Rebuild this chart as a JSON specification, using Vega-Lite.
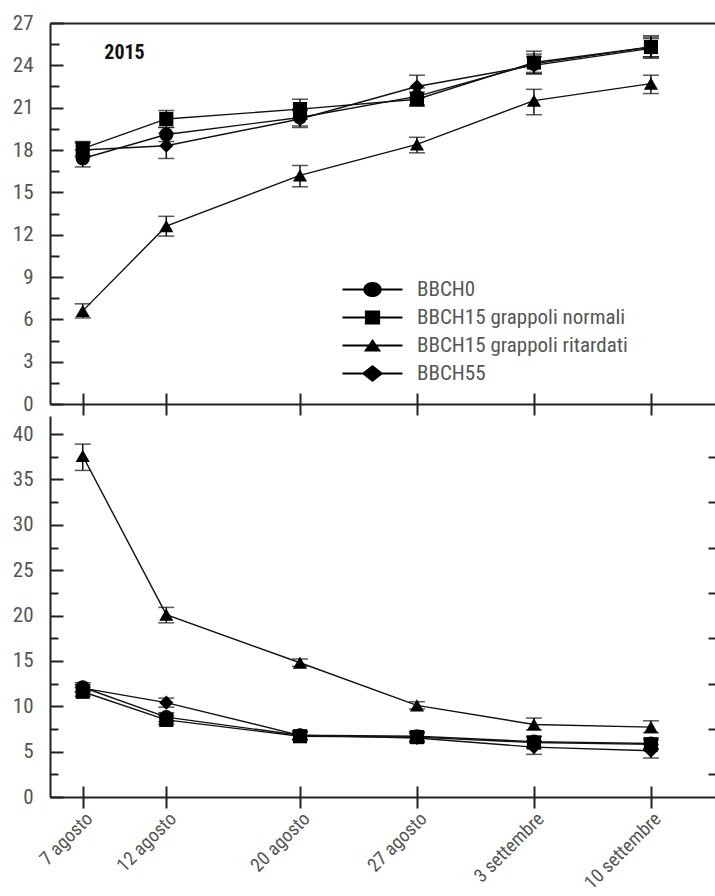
{
  "$schema": "https://vega.github.io/schema/vega-lite/v6.json",
  "padding": {"left": 12, "top": 12, "right": 0, "bottom": 0},
  "autosize": {"type": "pad"},
  "spacing": 0,
  "config": {
    "view": {"stroke": null},
    "axis": {
      "labelFont": "'Noto Sans Condensed Light', 'Noto Sans Condensed', 'Roboto Condensed', Roboto, sans-serif",
      "labelFontSize": 21,
      "labelColor": "#555555",
      "domainColor": "#222222",
      "tickColor": "#222222",
      "domainWidth": 2,
      "tickWidth": 2,
      "grid": false
    }
  },
  "resolve": {"scale": {"shape": "independent"}, "legend": {"shape": "independent"}},
  "datasets": {
    "d": [
      {"panel": "top", "date": "2015-08-07", "series": "BBCH0", "value": 17.4, "lo": 16.8, "hi": 18.0},
      {"panel": "top", "date": "2015-08-12", "series": "BBCH0", "value": 19.1, "lo": 18.6, "hi": 19.6},
      {"panel": "top", "date": "2015-08-20", "series": "BBCH0", "value": 20.3, "lo": 19.7, "hi": 20.9},
      {"panel": "top", "date": "2015-08-27", "series": "BBCH0", "value": 21.8, "lo": 21.2, "hi": 22.4},
      {"panel": "top", "date": "2015-09-03", "series": "BBCH0", "value": 24.1, "lo": 23.4, "hi": 24.8},
      {"panel": "top", "date": "2015-09-10", "series": "BBCH0", "value": 25.3, "lo": 24.6, "hi": 26.0},
      {"panel": "top", "date": "2015-08-07", "series": "BBCH15 grappoli normali", "value": 18.1, "lo": 17.6, "hi": 18.6},
      {"panel": "top", "date": "2015-08-12", "series": "BBCH15 grappoli normali", "value": 20.2, "lo": 19.6, "hi": 20.8},
      {"panel": "top", "date": "2015-08-20", "series": "BBCH15 grappoli normali", "value": 20.9, "lo": 20.2, "hi": 21.6},
      {"panel": "top", "date": "2015-08-27", "series": "BBCH15 grappoli normali", "value": 21.6, "lo": 21.1, "hi": 22.1},
      {"panel": "top", "date": "2015-09-03", "series": "BBCH15 grappoli normali", "value": 24.2, "lo": 23.5, "hi": 25.0},
      {"panel": "top", "date": "2015-09-10", "series": "BBCH15 grappoli normali", "value": 25.3, "lo": 24.6, "hi": 26.1},
      {"panel": "top", "date": "2015-08-07", "series": "BBCH15 grappoli ritardati", "value": 6.6, "lo": 6.1, "hi": 7.1},
      {"panel": "top", "date": "2015-08-12", "series": "BBCH15 grappoli ritardati", "value": 12.6, "lo": 11.9, "hi": 13.3},
      {"panel": "top", "date": "2015-08-20", "series": "BBCH15 grappoli ritardati", "value": 16.2, "lo": 15.4, "hi": 16.9},
      {"panel": "top", "date": "2015-08-27", "series": "BBCH15 grappoli ritardati", "value": 18.4, "lo": 17.8, "hi": 18.9},
      {"panel": "top", "date": "2015-09-03", "series": "BBCH15 grappoli ritardati", "value": 21.5, "lo": 20.5, "hi": 22.3},
      {"panel": "top", "date": "2015-09-10", "series": "BBCH15 grappoli ritardati", "value": 22.7, "lo": 22.0, "hi": 23.3},
      {"panel": "top", "date": "2015-08-07", "series": "BBCH55", "value": 18.0, "lo": 17.5, "hi": 18.5},
      {"panel": "top", "date": "2015-08-12", "series": "BBCH55", "value": 18.3, "lo": 17.4, "hi": 19.2},
      {"panel": "top", "date": "2015-08-20", "series": "BBCH55", "value": 20.2, "lo": 19.6, "hi": 20.8},
      {"panel": "top", "date": "2015-08-27", "series": "BBCH55", "value": 22.5, "lo": 21.7, "hi": 23.3},
      {"panel": "top", "date": "2015-09-03", "series": "BBCH55", "value": 24.0, "lo": 23.4, "hi": 24.6},
      {"panel": "top", "date": "2015-09-10", "series": "BBCH55", "value": 25.2, "lo": 24.5, "hi": 25.9},
      {"panel": "bottom", "date": "2015-08-07", "series": "BBCH0", "value": 12.1, "lo": 11.6, "hi": 12.6},
      {"panel": "bottom", "date": "2015-08-12", "series": "BBCH0", "value": 8.8, "lo": 8.3, "hi": 9.3},
      {"panel": "bottom", "date": "2015-08-20", "series": "BBCH0", "value": 6.8, "lo": 6.3, "hi": 7.3},
      {"panel": "bottom", "date": "2015-08-27", "series": "BBCH0", "value": 6.7, "lo": 6.2, "hi": 7.2},
      {"panel": "bottom", "date": "2015-09-03", "series": "BBCH0", "value": 6.1, "lo": 5.5, "hi": 6.7},
      {"panel": "bottom", "date": "2015-09-10", "series": "BBCH0", "value": 5.9, "lo": 5.3, "hi": 6.5},
      {"panel": "bottom", "date": "2015-08-07", "series": "BBCH15 grappoli normali", "value": 11.6, "lo": 11.1, "hi": 12.1},
      {"panel": "bottom", "date": "2015-08-12", "series": "BBCH15 grappoli normali", "value": 8.5, "lo": 8.0, "hi": 9.0},
      {"panel": "bottom", "date": "2015-08-20", "series": "BBCH15 grappoli normali", "value": 6.7, "lo": 6.3, "hi": 7.1},
      {"panel": "bottom", "date": "2015-08-27", "series": "BBCH15 grappoli normali", "value": 6.6, "lo": 6.1, "hi": 7.1},
      {"panel": "bottom", "date": "2015-09-03", "series": "BBCH15 grappoli normali", "value": 6.0, "lo": 5.4, "hi": 6.6},
      {"panel": "bottom", "date": "2015-09-10", "series": "BBCH15 grappoli normali", "value": 5.8, "lo": 5.3, "hi": 6.3},
      {"panel": "bottom", "date": "2015-08-07", "series": "BBCH15 grappoli ritardati", "value": 37.6, "lo": 36.0, "hi": 38.9},
      {"panel": "bottom", "date": "2015-08-12", "series": "BBCH15 grappoli ritardati", "value": 20.1, "lo": 19.2, "hi": 20.9},
      {"panel": "bottom", "date": "2015-08-20", "series": "BBCH15 grappoli ritardati", "value": 14.8, "lo": 14.4, "hi": 15.2},
      {"panel": "bottom", "date": "2015-08-27", "series": "BBCH15 grappoli ritardati", "value": 10.1, "lo": 9.7, "hi": 10.5},
      {"panel": "bottom", "date": "2015-09-03", "series": "BBCH15 grappoli ritardati", "value": 8.0, "lo": 7.4, "hi": 8.7},
      {"panel": "bottom", "date": "2015-09-10", "series": "BBCH15 grappoli ritardati", "value": 7.7, "lo": 7.1, "hi": 8.4},
      {"panel": "bottom", "date": "2015-08-07", "series": "BBCH55", "value": 12.0, "lo": 11.6, "hi": 12.4},
      {"panel": "bottom", "date": "2015-08-12", "series": "BBCH55", "value": 10.4, "lo": 9.9, "hi": 10.9},
      {"panel": "bottom", "date": "2015-08-20", "series": "BBCH55", "value": 6.8, "lo": 6.4, "hi": 7.2},
      {"panel": "bottom", "date": "2015-08-27", "series": "BBCH55", "value": 6.5, "lo": 6.0, "hi": 7.0},
      {"panel": "bottom", "date": "2015-09-03", "series": "BBCH55", "value": 5.5, "lo": 4.7, "hi": 6.2},
      {"panel": "bottom", "date": "2015-09-10", "series": "BBCH55", "value": 5.1, "lo": 4.3, "hi": 5.8}
    ]
  },
  "vconcat": [
    {
      "width": 665,
      "height": 381,
      "data": {"name": "d"},
      "transform": [{"filter": "datum.panel === 'top'"}],
      "resolve": {"scale": {"shape": "independent"}, "axis": {"x": "independent", "y": "independent"}},
      "layer": [
        {
          "mark": {"type": "errorbar", "ticks": {"size": 16, "thickness": 1.5, "color": "#111111"}, "rule": {"strokeWidth": 1.5, "color": "#111111"}},
          "encoding": {
            "x": {"field": "date", "type": "temporal", "scale": {"type": "utc", "nice": false, "domain": [{"year": 2015, "month": 8, "date": 5, "hours": 1, "utc": true}, {"year": 2015, "month": 9, "date": 13, "hours": 20, "utc": true}]}, "axis": null},
            "y": {"field": "lo", "type": "quantitative", "scale": {"domain": [0, 27], "nice": false}, "axis": null},
            "y2": {"field": "hi"},
            "detail": {"field": "series"}
          }
        },
        {
          "mark": {"type": "line", "color": "#111111", "strokeWidth": 1.4},
          "encoding": {
            "x": {"field": "date", "type": "temporal", "axis": {"orient": "bottom", "title": null, "labels": false, "tickSize": 11, "domain": true,
              "values": [{"year": 2015, "month": 8, "date": 7, "utc": true}, {"year": 2015, "month": 8, "date": 12, "utc": true}, {"year": 2015, "month": 8, "date": 20, "utc": true}, {"year": 2015, "month": 8, "date": 27, "utc": true}, {"year": 2015, "month": 9, "date": 3, "utc": true}, {"year": 2015, "month": 9, "date": 10, "utc": true}]}},
            "y": {"field": "value", "type": "quantitative", "axis": {"orient": "left", "title": null, "values": [0, 3, 6, 9, 12, 15, 18, 21, 24, 27], "tickSize": -13, "labelPadding": 30}},
            "detail": {"field": "series"}
          }
        },
        {
          "mark": {"type": "point", "filled": true, "color": "#000000", "opacity": 1, "size": 200},
          "encoding": {
            "x": {"field": "date", "type": "temporal", "axis": {"orient": "bottom", "title": null, "labels": false, "tickSize": 11, "domain": false, "offset": -11,
              "values": [{"year": 2015, "month": 8, "date": 7, "utc": true}, {"year": 2015, "month": 8, "date": 12, "utc": true}, {"year": 2015, "month": 8, "date": 20, "utc": true}, {"year": 2015, "month": 8, "date": 27, "utc": true}, {"year": 2015, "month": 9, "date": 3, "utc": true}, {"year": 2015, "month": 9, "date": 10, "utc": true}]}},
            "y": {"field": "value", "type": "quantitative", "axis": {"orient": "left", "title": null, "labels": false, "domain": false, "tickSize": -9, "values": [1.5, 4.5, 7.5, 10.5, 13.5, 16.5, 19.5, 22.5, 25.5]}},
            "shape": {"field": "series", "type": "nominal", "scale": {"domain": ["BBCH0", "BBCH15 grappoli normali", "BBCH15 grappoli ritardati", "BBCH55"], "range": ["circle", "square", "triangle-up", "diamond"]}, "legend": null}
          }
        },
        {
          "data": {"values": [{"label": "2015"}]},
          "mark": {"type": "text", "font": "'Noto Sans Condensed', 'Roboto Condensed', Roboto, sans-serif", "fontSize": 20, "fontWeight": "bold", "color": "#111111"},
          "encoding": {
            "x": {"datum": {"year": 2015, "month": 8, "date": 9, "hours": 12, "utc": true}, "type": "temporal", "axis": {"orient": "top", "title": null, "labels": false, "ticks": false, "domain": true}},
            "y": {"datum": 24.9, "type": "quantitative", "axis": null},
            "text": {"field": "label"}
          }
        },
        {
          "transform": [{"filter": "false"}],
          "mark": {"type": "point", "filled": true, "color": "#000000", "opacity": 1},
          "encoding": {
            "shape": {"field": "series", "type": "nominal",
              "scale": {"domain": ["BBCH0", "BBCH15 grappoli normali", "BBCH15 grappoli ritardati", "BBCH55"],
                "range": [
                  "M-3.75,-0.13H3.75V0.13H-3.75ZM1.15,0A1.15,0.95,0,1,1,-1.15,0A1.15,0.95,0,1,1,1.15,0Z",
                  "M-3.75,-0.13H3.75V0.13H-3.75ZM-0.95,-0.87H0.95V0.87H-0.95Z",
                  "M-3.75,-0.13H3.75V0.13H-3.75ZM0,-0.8L1.08,0.75H-1.08Z",
                  "M-3.75,-0.13H3.75V0.13H-3.75ZM0,-1.05L1.35,0L0,1.05L-1.35,0Z"
                ]},
              "legend": {"orient": "none", "legendX": 312, "legendY": 256, "title": null, "padding": 0, "symbolSize": 256, "symbolStrokeWidth": 0,
                "labelFont": "'Noto Sans Condensed Light', 'Noto Sans Condensed', 'Roboto Condensed', Roboto, sans-serif", "labelFontSize": 21, "labelColor": "#555555", "labelOffset": 34, "rowPadding": 6, "labelLimit": 400,
                "encode": {"symbols": {"fill": {"value": "#000000"}, "opacity": {"value": 1}}}}}
          }
        }
      ]
    },
    {
      "width": 665,
      "height": 381,
      "data": {"name": "d"},
      "transform": [{"filter": "datum.panel === 'bottom'"}],
      "resolve": {"axis": {"x": "independent", "y": "independent"}},
      "layer": [
        {
          "mark": {"type": "errorbar", "ticks": {"size": 16, "thickness": 1.5, "color": "#111111"}, "rule": {"strokeWidth": 1.5, "color": "#111111"}},
          "encoding": {
            "x": {"field": "date", "type": "temporal", "scale": {"type": "utc", "nice": false, "domain": [{"year": 2015, "month": 8, "date": 5, "hours": 1, "utc": true}, {"year": 2015, "month": 9, "date": 13, "hours": 20, "utc": true}]}, "axis": null},
            "y": {"field": "lo", "type": "quantitative", "scale": {"domain": [0, 42], "nice": false}, "axis": null},
            "y2": {"field": "hi"},
            "detail": {"field": "series"}
          }
        },
        {
          "mark": {"type": "line", "color": "#111111", "strokeWidth": 1.4},
          "encoding": {
            "x": {"field": "date", "type": "temporal", "axis": {"orient": "bottom", "title": null, "tickSize": 11, "domain": true, "labelAngle": -45, "labelAlign": "right", "labelBaseline": "top", "labelPadding": 1, "labelOverlap": false, "labelBound": false, "labelFlush": false, "labelFontSize": 19,
              "labelExpr": "utcFormat(datum.value, '%-d') + (utcmonth(datum.value) == 7 ? ' agosto' : ' settembre')",
              "values": [{"year": 2015, "month": 8, "date": 7, "utc": true}, {"year": 2015, "month": 8, "date": 12, "utc": true}, {"year": 2015, "month": 8, "date": 20, "utc": true}, {"year": 2015, "month": 8, "date": 27, "utc": true}, {"year": 2015, "month": 9, "date": 3, "utc": true}, {"year": 2015, "month": 9, "date": 10, "utc": true}]}},
            "y": {"field": "value", "type": "quantitative", "axis": {"orient": "left", "title": null, "values": [0, 5, 10, 15, 20, 25, 30, 35, 40], "tickSize": -13, "labelPadding": 30}},
            "detail": {"field": "series"}
          }
        },
        {
          "mark": {"type": "point", "filled": true, "color": "#000000", "opacity": 1, "size": 200},
          "encoding": {
            "x": {"field": "date", "type": "temporal", "axis": {"orient": "bottom", "title": null, "labels": false, "tickSize": 11, "domain": false, "offset": -11,
              "values": [{"year": 2015, "month": 8, "date": 7, "utc": true}, {"year": 2015, "month": 8, "date": 12, "utc": true}, {"year": 2015, "month": 8, "date": 20, "utc": true}, {"year": 2015, "month": 8, "date": 27, "utc": true}, {"year": 2015, "month": 9, "date": 3, "utc": true}, {"year": 2015, "month": 9, "date": 10, "utc": true}]}},
            "y": {"field": "value", "type": "quantitative", "axis": {"orient": "left", "title": null, "labels": false, "domain": false, "tickSize": -8, "values": [2.5, 7.5, 12.5, 17.5, 22.5, 27.5, 32.5, 37.5]}},
            "shape": {"field": "series", "type": "nominal", "scale": {"domain": ["BBCH0", "BBCH15 grappoli normali", "BBCH15 grappoli ritardati", "BBCH55"], "range": ["circle", "square", "triangle-up", "diamond"]}, "legend": null}
          }
        },
        {
          "transform": [{"filter": "false"}],
          "mark": {"type": "point", "opacity": 0},
          "encoding": {
            "y": {"field": "value", "type": "quantitative", "axis": {"orient": "right", "title": null, "labels": false, "domain": false, "tickSize": -7, "values": [2.5, 7.5, 12.5, 17.5, 22.5, 27.5, 32.5, 37.5]}}
          }
        }
      ]
    }
  ]
}
